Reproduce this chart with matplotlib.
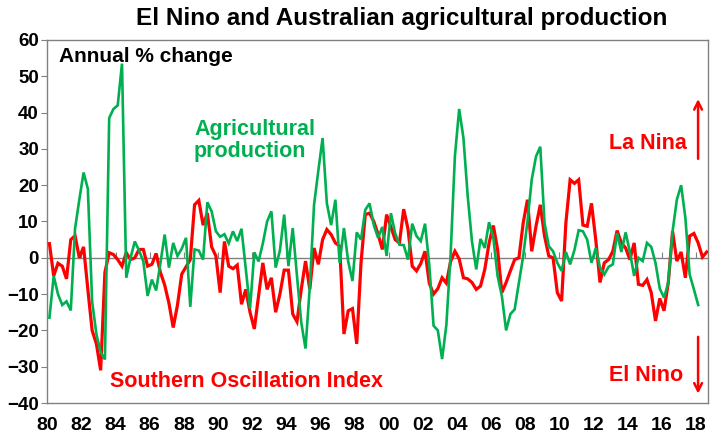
import matplotlib
matplotlib.use("Agg")
import matplotlib.pyplot as plt
import numpy as np

plt.rcParams['font.family'] = ['Liberation Sans', 'DejaVu Sans']

# Quarterly data starting 1980 Q1
agri = [-16.5, -5, -10, -13, -12, -14.5, 8, 16, 23.5, 19,
        -12, -21, -26, -28, 38.5, 41, 42, 53.5, -5.5, 0,
        4.5, 2, -1, -10.5, -6, -9, -1.5, 6.4, -2.7, 4.1,
        0.5, 2.5, 5.5, -13.5, 2.3, 2, -0.5, 15.3, 12.8, 7.3,
        5.8, 6.5, 4, 7.3, 4.6, 8, -3, -14, 1.5, -1,
        4, 10, 12.8, -2.7, 2, 11.9, -2.3, 8.2, -5, -17.8,
        -25, -8, 14.6, 24, 33, 15, 9, 16, -1.4, 8.2,
        -1, -6.4, 7, 5, 13.2, 15, 9, 5.5, 8.5, 0.5,
        12.3, 6.8, 3.6, 3.5, -0.5, 9.4, 6, 4.6, 9.4, -2,
        -18.7, -20, -27.9, -18.5, 1, 28, 41, 33, 17, 4.5,
        -3.2, 5.2, 2.7, 9.8, 5.5, -5, -10.5, -20, -15.5, -14.2,
        -6.8, 0.5, 10, 21.5, 27.9, 30.6, 9.6, 3.2, 1.8, -1.4,
        -3.6, 1.6, -1.8, 2.1, 7.6, 7.3, 5, -1.4, 2.7, -2.7,
        -4.6, -2.5, -1.8, 6.8, 1.6, 7, 1.6, -5, 0, -0.9,
        4.1, 3, -1.4, -8.5, -11, -6.8, 7.3, 16, 20, 11,
        -4.6, -8.7, -13]

soi = [3.9, -5, -1.5, -2.3, -5.8, 5, 6.1, 0, 3, -8.7,
       -20, -23.7, -31, -4, 1.4, 0.9, -0.5, -2.3, 1.4, -0.5,
       0, 2.3, 2.3, -2.3, -1.8, 1.2, -4, -7.5, -12.5, -19.2,
       -13, -4.5, -2.5, -0.5, 14.6, 15.8, 9, 12.3, 3, 0.5,
       -9.6, 4.5, -2.3, -3, -2, -12.8, -8.7, -15, -19.6, -10.5,
       -1.4, -8.7, -5.5, -15, -10, -3.4, -3.4, -15.5, -17.6, -8.7,
       -0.9, -8.7, 2.7, -1.8, 5, 7.8, 6.4, 4.1, 3.2, -21,
       -14.6, -14, -23.7, -1.4, 11.9, 12.3, 10, 6.5, 2.3, 11.9,
       8.5, 5, 4.1, 13.4, 8, -2.3, -3.6, -1.6, 1.8, -7,
       -10, -8.5, -5.5, -7, -1, 1.8, -0.3, -5.5, -5.8, -6.8,
       -8.7, -7.8, -3.2, 4, 8.9, 2.3, -9.6, -6.8, -3.6, -0.5,
       0, 9.6, 16, 1.8, 8.7, 14.6, 6, 0.5, 0, -9.6,
       -11.9, 9.6, 21.5, 20.5, 21.5, 9, 8.7, 15, 5, -6.8,
       -1.4, -0.5, 1.8, 7.5, 4.1, 2.7, -0.5, 4.1, -7.3, -7.6,
       -6, -9.6, -17.4, -11.2, -14.6, -6.8, 7.3, -0.9, 1.6, -5.5,
       6, 6.7, 4.1, 0.2, 1.6]

tick_labels = ['80', '82', '84', '86', '88', '90', '92', '94', '96', '98',
               '00', '02', '04', '06', '08', '10', '12', '14', '16', '18']

GREEN = '#00B050'
RED = '#FF0000'

fig = plt.figure(figsize=(7.23, 4.40), dpi=100)
ax = fig.add_axes([47.3/723, 1-403/440, (708-47.3)/723, (403-40)/440])

xa = np.arange(len(agri))
xs = np.arange(len(soi))
ax.plot(xs, soi, color=RED, lw=2.3, solid_joinstyle='miter', zorder=3)
ax.plot(xa, agri, color=GREEN, lw=1.9, solid_joinstyle='miter', zorder=4)

ax.set_xlim(-0.5, 154.3)
ax.set_ylim(-40, 60)
ax.set_yticks(np.arange(-40, 61, 10))
ax.tick_params(axis='y', direction='out', length=4, color='#808080', labelsize=13.5, pad=2)
for lab in ax.get_yticklabels():
    lab.set_fontweight('bold')

tpos = np.arange(len(tick_labels)) * 8 - 0.5
ax.set_xticks(tpos)
ax.set_xticklabels(tick_labels, fontsize=14, fontweight='bold')
ax.tick_params(axis='x', length=0, pad=10)

for s in ax.spines.values():
    s.set_color('#808080')
    s.set_linewidth(1.0)

# zero axis line with tick marks
ax.axhline(0, color='#808080', lw=1.0, zorder=2)
sec = ax.secondary_xaxis(0.4)
sec.set_xticks(tpos)
sec.tick_params(axis='x', direction='in', length=4, color='#808080', labelbottom=False, labeltop=False)
sec.spines['bottom'].set_visible(False)
sec.spines['top'].set_visible(False)
sec.set_xticklabels([])

fig.text(0.555, 1-19/440, 'El Nino and Australian agricultural production',
         ha='center', va='center', fontsize=17.5, fontweight='bold')

ax.text(0.018, 0.955, 'Annual % change', transform=ax.transAxes, ha='left', va='center',
        fontsize=15, fontweight='bold', color='black')
ax.text(0.222, 0.723, 'Agricultural\nproduction', transform=ax.transAxes, ha='left', va='center',
        fontsize=15.5, fontweight='bold', color=GREEN, linespacing=1.05)
ax.text(0.095, 0.058, 'Southern Oscillation Index', transform=ax.transAxes, ha='left', va='center',
        fontsize=15.5, fontweight='bold', color=RED)
ax.text(0.968, 0.714, 'La Nina', transform=ax.transAxes, ha='right', va='center',
        fontsize=15.5, fontweight='bold', color=RED)
ax.text(0.962, 0.075, 'El Nino', transform=ax.transAxes, ha='right', va='center',
        fontsize=15.5, fontweight='bold', color=RED)

ax.annotate('', xy=(0.985, 0.845), xytext=(0.985, 0.665), xycoords='axes fraction',
            arrowprops=dict(arrowstyle='->', color=RED, lw=1.8, mutation_scale=14))
ax.annotate('', xy=(0.985, 0.018), xytext=(0.985, 0.19), xycoords='axes fraction',
            arrowprops=dict(arrowstyle='->', color=RED, lw=1.8, mutation_scale=14))

fig.savefig('out.png', dpi=100)
